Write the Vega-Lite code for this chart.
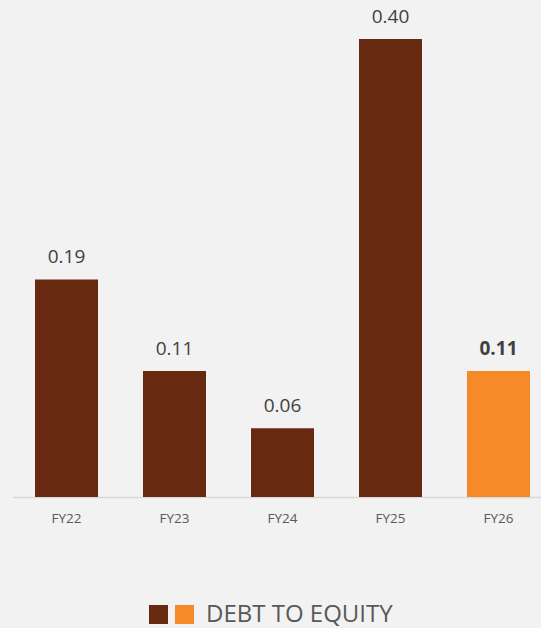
{
  "$schema": "https://vega.github.io/schema/vega-lite/v6.json",
  "autosize": {"type": "none"},
  "padding": {"left": 12.5, "top": 39, "right": 0, "bottom": 131},
  "width": 540,
  "height": 458,
  "background": "#f2f2f2",
  "config": {"view": {"stroke": null}, "font": "Open Sans"},
  "data": {
    "values": [
      {"year": "FY22", "value": 0.19, "series": "a"},
      {"year": "FY23", "value": 0.11, "series": "a"},
      {"year": "FY24", "value": 0.06, "series": "a"},
      {"year": "FY25", "value": 0.40, "series": "a"},
      {"year": "FY26", "value": 0.11, "series": "b"}
    ]
  },
  "encoding": {
    "x": {
      "field": "year", "type": "nominal", "sort": null,
      "scale": {"paddingInner": 0.4167, "paddingOuter": 0.2083},
      "axis": {"title": null, "labelAngle": 0, "ticks": false, "domainColor": "#d9d9d9", "domainWidth": 1.5, "labelColor": "#595959", "labelFontSize": 13.5, "labelPadding": 14, "labelFont": "Open Sans"}
    },
    "y": {
      "field": "value", "type": "quantitative",
      "scale": {"domain": [0, 0.4], "nice": false, "zero": true},
      "axis": null
    }
  },
  "layer": [
    {
      "mark": {"type": "bar"},
      "encoding": {
        "color": {
          "field": "series", "type": "nominal",
          "scale": {"domain": ["a", "b"], "range": ["#672a10", "#f58a29"]},
          "legend": {
            "orient": "none", "legendX": 136.5, "legendY": 566, "direction": "horizontal",
            "padding": 0, "symbolType": "square", "symbolSize": 361, "symbolStrokeWidth": 0,
            "labelExpr": "''", "labelOffset": 0, "labelFontSize": 1, "columnPadding": 7,
            "title": "DEBT TO EQUITY", "titleOrient": "right", "titleFontSize": 24, "titleFontWeight": "normal",
            "titleColor": "#595959", "titlePadding": 12, "titleFont": "Open Sans", "titleBaseline": "middle", "titleLimit": 500
          }
        }
      }
    },
    {
      "transform": [{"filter": "datum.series == 'a'"}],
      "mark": {"type": "text", "dy": -16, "baseline": "alphabetic", "fontSize": 19, "color": "#404040"},
      "encoding": {"text": {"field": "value", "type": "quantitative", "format": ".2f"}}
    },
    {
      "transform": [{"filter": "datum.series == 'b'"}],
      "mark": {"type": "text", "dy": -16, "baseline": "alphabetic", "fontSize": 19, "fontWeight": "bold", "color": "#404040"},
      "encoding": {"text": {"field": "value", "type": "quantitative", "format": ".2f"}}
    }
  ]
}
